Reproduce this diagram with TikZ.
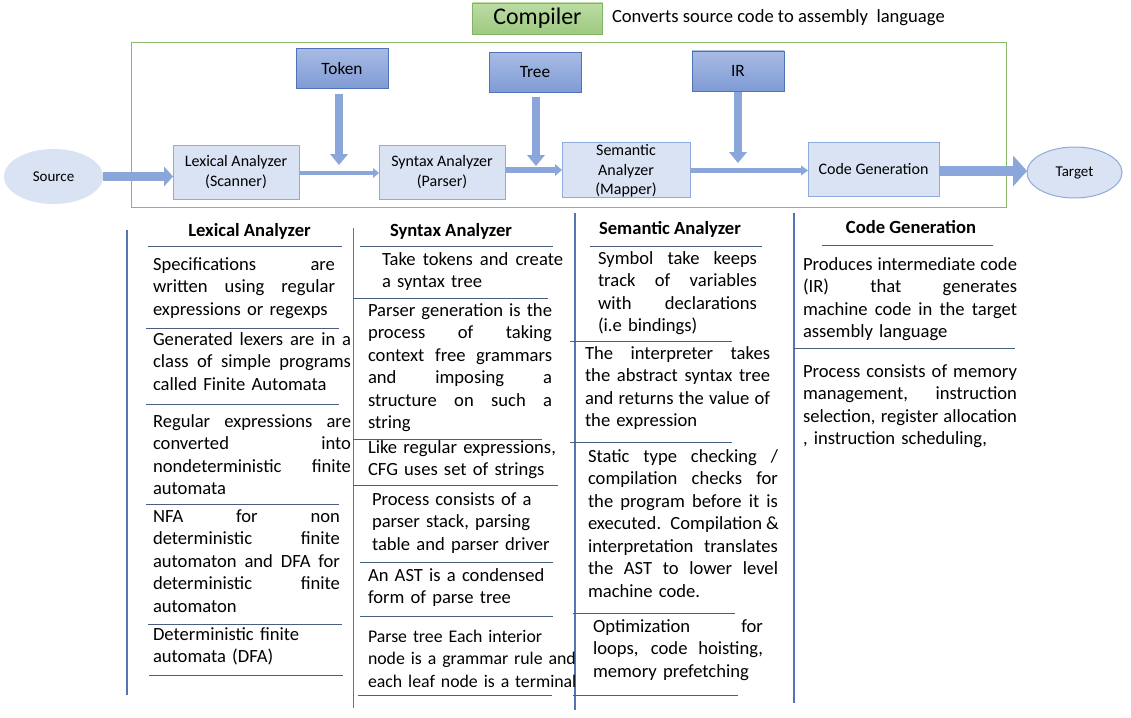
\documentclass[tikz,border=0pt]{standalone}
\usepackage{fontspec}
\setmainfont{Carlito}
\usetikzlibrary{arrows.meta,shapes.geometric}
\definecolor{boxfill}{HTML}{DAE3F3}
\definecolor{boxdraw}{HTML}{8FAADC}
\definecolor{tokentop}{HTML}{A8BBE4}
\definecolor{tokenbot}{HTML}{7F9BD5}
\definecolor{tokendraw}{HTML}{4F73B8}
\definecolor{arrowc}{HTML}{8AA6DA}
\definecolor{frameg}{HTML}{8DB86B}
\definecolor{greentop}{HTML}{BCDCA4}
\definecolor{greenbot}{HTML}{9DCA80}
\definecolor{greendraw}{HTML}{82B366}
\definecolor{colline}{HTML}{5575B0}
\definecolor{sepline}{HTML}{4A5F80}
\newcommand\jl[1]{\leavevmode\hbox to \hsize{\spaceskip=.226em plus 1fil\relax #1}}
\begin{document}
\begin{tikzpicture}[x=1pt,y=-1pt,
  every node/.style={inner sep=0pt,outer sep=0pt},
  flowbox/.style={draw=boxdraw,fill=boxfill,line width=0.8pt,align=center,
    font=\fontsize{16}{19.5}\selectfont},
  tagbox/.style={draw=tokendraw,top color=tokentop,bottom color=tokenbot,line width=0.8pt,
    minimum width=92pt,minimum height=40pt,font=\fontsize{17.3}{20}\selectfont},
  endell/.style={ellipse,fill=boxfill,font=\fontsize{15}{18}\selectfont},
  arr/.style={draw=arrowc},
  varr/.style={arr,line width=8pt,-{Triangle[length=11pt,width=18pt,line width=0pt]}},
  para/.style={anchor=base west,text width=#1,align=left,font=\fontsize{18.6}{22.5}\selectfont},
  head/.style={anchor=base,font=\fontsize{18.6}{22.5}\selectfont\bfseries},
  sep/.style={draw=sepline,line width=1pt},
  col/.style={draw=colline,line width=1.1pt}
]
\fill[white] (0,0) rectangle (1131,717);
\useasboundingbox (0,0) rectangle (1131,717);

% title
\node[draw=greendraw,top color=greentop,bottom color=greenbot,line width=0.8pt,
  minimum width=130pt,minimum height=31pt,font=\fontsize{23.9}{26}\selectfont] (compiler) at (537.5,18.5) {Compiler};
\node[anchor=west,font=\fontsize{18.6}{22}\selectfont] (conv) at (612,18) {Converts source code to assembly\ \ language};

% frame
\draw[frameg,line width=1pt] (131,43) rectangle (1006,207);

% tags
\node[tagbox] (token) at (342,68.5) {Token};
\node[tagbox] (tree) at (535,72.5) {Tree};
\node[tagbox] (ir) at (738,71) {IR};

% flow
\node[endell,minimum width=99pt,minimum height=55pt] (src) at (53.5,176.5) {Source};
\node[flowbox,minimum width=126pt,minimum height=54pt] (lex) at (236,172) {Lexical Analyzer\\(Scanner)};
\node[flowbox,minimum width=126pt,minimum height=54pt] (syn) at (442,172) {Syntax Analyzer\\(Parser)};
\node[flowbox,minimum width=128pt,minimum height=55pt] (sem) at (626,169.5) {};
\node[align=center,font=\fontsize{16}{19.5}\selectfont] (semt) at (626,171) {Semantic\\Analyzer\\(Mapper)};
\node[flowbox,minimum width=131pt,minimum height=54pt] (code) at (873.5,169) {Code Generation};
\node[endell,draw=boxdraw,line width=1pt,minimum width=95pt,minimum height=51pt] (tgt) at (1074.5,172.5) {Target};

\draw[arr,line width=9pt,-{Triangle[length=9pt,width=20pt,line width=0pt]}] (src.east) -- (src.east -| lex.west);
\draw[arr,line width=4.5pt,-{Triangle[length=6pt,width=10pt,line width=0pt]}] ([yshift=-1pt]lex.east) -- ([yshift=-1pt]lex.east -| syn.west);
\draw[arr,line width=6pt,-{Triangle[length=7pt,width=12pt,line width=0pt]}] ([yshift=2pt]syn.east) -- ([yshift=2pt]syn.east -| sem.west);
\draw[arr,line width=5pt,-{Triangle[length=7pt,width=10pt,line width=0pt]}] ([yshift=-1pt]sem.east) -- ([yshift=-1pt]sem.east -| code.west);
\draw[arr,line width=10pt,-{Triangle[length=14pt,width=31pt,line width=0pt]}] ([yshift=-2pt]code.east) -- ([yshift=-2pt]code.east -| tgt.west);

\coordinate (tke) at (339,165);
\coordinate (tre) at (536,166);
\coordinate (ire) at (738,163);
\draw[varr,shorten <=5pt] (token.south -| tke) -- (tke);
\draw[varr,shorten <=4pt] (tree.south -| tre) -- (tre);
\draw[varr,shorten <=1pt] (ir.south -| ire) -- (ire);

% column rules
\draw[col] (127,230) -- (127,695);
\draw[col] (353.5,228) -- (353.5,708);
\draw[col] (575,213) -- (575,710);
\draw[col] (794,213) -- (794,703);

% column 1
\node[head] (h1) at (249.5,236) {Lexical Analyzer};
\draw[sep] (148,246) -- (342,246);
\node[para=182pt] (l1) at (153,270) {\jl{Specifications are}\\\jl{written using regular}\\expressions or regexps};
\draw[sep] (146,328) -- (339,328);
\node[para=198pt] (l2) at (153,345) {\jl{Generated lexers are in a}\\\jl{class of simple programs}\\called Finite Automata};
\draw[sep] (146,404) -- (339,404);
\node[para=198pt] (l3) at (153,427) {\jl{Regular expressions are}\\\jl{converted into}\\\jl{nondeterministic finite}\\automata};
\draw[sep] (146,504) -- (339,504);
\node[para=187pt] (l4) at (153,522) {\jl{NFA for non}\\\jl{deterministic finite}\\\jl{automaton and DFA for}\\\jl{deterministic finite}\\automaton};
\draw[sep] (148,624) -- (342,624);
\node[para=190pt] (l5) at (153,640) {Deterministic finite\\automata (DFA)};
\draw[sep] (149,675) -- (343,675);

% column 2
\node[head] (h2) at (451,236) {Syntax Analyzer};
\draw[sep] (360,246) -- (553,246);
\node[para=181pt] (s1) at (382,265) {\jl{Take tokens and create}\\a syntax tree};
\draw[sep] (353,298) -- (548,298);
\node[para=184pt] (s2) at (368,316) {\jl{Parser generation is the}\\\jl{process of taking}\\\jl{context free grammars}\\\jl{and imposing a}\\\jl{structure on such a}\\string};
\draw[sep] (353,439) -- (542,439);
\node[para=200pt] (s3) at (368,453) {Like regular expressions,\\CFG uses set of strings};
\draw[sep] (353,485) -- (558,485);
\node[para=200pt] (s4) at (372,505) {Process consists of a\\parser stack, parsing\\table and parser driver};
\draw[sep] (360,562) -- (553,562);
\node[para=200pt] (s5) at (368,581) {An AST is a condensed\\form of parse tree};
\draw[sep] (360,616) -- (553,616);
\node[para=250pt,font=\fontsize{17.8}{22.5}\selectfont] (s6) at (368,642) {Parse tree Each interior\\node is a grammar rule and\\each leaf node is a terminal};
\draw[sep] (358,695) -- (552,695);

% column 3
\node[head] (h3) at (670,234) {Semantic Analyzer};
\draw[sep] (590,246) -- (762,246);
\node[para=159pt] (m1) at (598,264) {\jl{Symbol take keeps}\\\jl{track of variables}\\\jl{with declarations}\\(i.e bindings)};
\draw[sep] (570,341) -- (732,341);
\node[para=185pt] (m2) at (585,359) {\jl{The interpreter takes}\\\jl{the abstract syntax tree}\\\jl{and returns the value of}\\the expression};
\draw[sep] (570,442) -- (732,442);
\node[para=190pt] (m3) at (588,462) {\jl{Static type checking /}\\\jl{compilation checks for}\\\jl{the program before it is}\\\jl{executed. Compilation \&}\\\jl{interpretation translates}\\\jl{the AST to lower level}\\machine code.};
\draw[sep] (573,613) -- (735,613);
\node[para=170pt] (m4) at (593,632) {\jl{Optimization for}\\\jl{loops, code hoisting,}\\memory prefetching};
\draw[sep] (573,695) -- (738,695);

% column 4
\node[head] (h4) at (911,233) {Code Generation};
\draw[sep] (822,245) -- (993,245);
\node[para=214pt] (c1) at (803,270) {\jl{Produces intermediate code}\\\jl{(IR) that generates}\\\jl{machine code in the target}\\assembly language};
\draw[sep] (794,348) -- (1015,348);
\node[para=214pt] (c2) at (803,377) {\jl{Process consists of memory}\\\jl{management, instruction}\\\jl{selection, register allocation}\\, instruction scheduling,};
\end{tikzpicture}
\end{document}
